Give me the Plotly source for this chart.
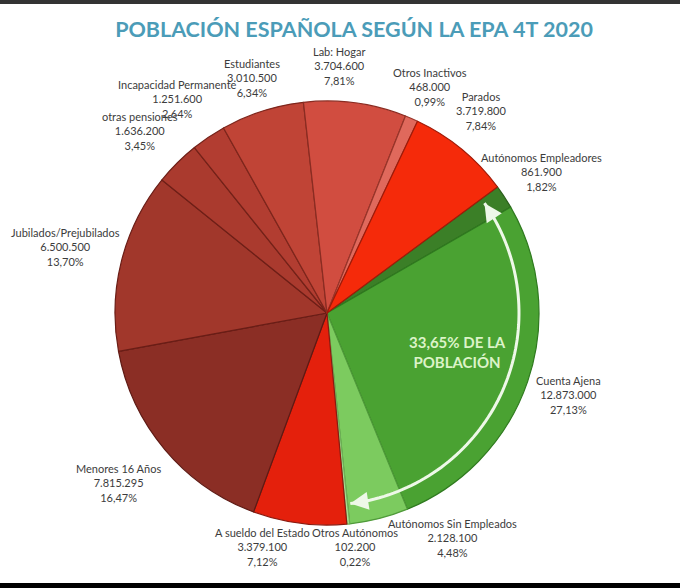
import math
import plotly.graph_objects as go

# ---------------- data ----------------
categories = [
    "Autónomos Empleadores", "Cuenta Ajena", "Autónomos Sin Empleados",
    "Otros Autónomos", "A sueldo del Estado", "Menores 16 Años",
    "Jubilados/Prejubilados", "otras pensiones", "Incapacidad Permanente",
    "Estudiantes", "Lab: Hogar", "Otros Inactivos", "Parados",
]
values = [861900, 12873000, 2128100, 102200, 3379100, 7815295, 6500500,
          1636200, 1251600, 3010500, 3704600, 468000, 3719800]
value_labels = ["861.900", "12.873.000", "2.128.100", "102.200", "3.379.100",
                "7.815.295", "6.500.500", "1.636.200", "1.251.600", "3.010.500",
                "3.704.600", "468.000", "3.719.800"]
pct_labels = ["1,82%", "27,13%", "4,48%", "0,22%", "7,12%", "16,47%", "13,70%",
              "3,45%", "2,64%", "6,34%", "7,81%", "0,99%", "7,84%"]
title_text = "POBLACIÓN ESPAÑOLA SEGÚN LA EPA 4T 2020"
callout_text = "33,65% DE LA<br>POBLACIÓN"
n_employed = 4  # first four slices form the 33,65 % share

# ---------------- styling ----------------
W, H = 680, 588
CX, CY, R = 327, 313, 212
ROTATION = 53.5
colors = ["#3b7f27", "#4aa232", "#7ccb5f", "#a6de90", "#e4200c", "#8b2e25",
          "#a1372b", "#aa3a2e", "#b23d31", "#c04436", "#d14d40", "#e0695c",
          "#f52a0a"]
line_colors = ["#2a5f1b", "#2f7a1f", "#4f9a3a", "#6fae58", "#8a1a10", "#5e1a14",
               "#6a1d16", "#6e1f17", "#742219", "#7e261c", "#8a2c22", "#98352a",
               "#a01a08"]
label_r = [257, 255, 258, 236, 243, 269, 270, 261, 261, 247, 247, 248, 254]
label_nudge = [0, 0, -15, -1, 8, 1, 0, -1, -1, 0, -5, 1, -2]
ARROW_COLOR = "#eef8e8"

fig = go.Figure()

fig.add_trace(go.Pie(
    labels=categories, values=values, sort=False, direction="clockwise",
    rotation=ROTATION, textinfo="none", hoverinfo="label+value+percent",
    marker=dict(colors=colors, line=dict(color=line_colors, width=1.2)),
    domain=dict(x=[(CX - R) / W, (CX + R) / W],
                y=[(H - CY - R) / H, (H - CY + R) / H]),
    showlegend=False,
))

# angles from data
total = sum(values)
cum = 0.0
starts, ends = [], []
for v in values:
    starts.append(ROTATION + 360 * cum / total)
    cum += v
    ends.append(ROTATION + 360 * cum / total)


def pt(angle_deg, r):
    a = math.radians(angle_deg)
    return CX + r * math.sin(a), CY - r * math.cos(a)


annotations = []
for i, name in enumerate(categories):
    mid = (starts[i] + ends[i]) / 2 + label_nudge[i]
    x, y = pt(mid, label_r[i])
    annotations.append(dict(
        x=x, y=y, xref="x", yref="y", showarrow=False,
        text=f"{name}<br>{value_labels[i]}<br>{pct_labels[i]}",
        font=dict(family="Lato, Carlito, Open Sans, sans-serif", size=11, color="#3c3c3c"),
        align="center", xanchor="center", yanchor="middle",
    ))

# callout text
annotations.append(dict(
    x=457, y=352, xref="x", yref="y", showarrow=False, text=f"<b>{callout_text}</b>",
    font=dict(family="Lato, Open Sans, sans-serif", size=15, color="#dcf3c8"),
    align="center", xanchor="center", yanchor="middle",
))

# white arc arrow spanning the employed share
a0 = starts[0] + 1.6
a1 = ends[n_employed - 1] - 1.6
RA = 192
steps = 80
arc = [a0 + (a1 - a0) * k / steps for k in range(steps + 1)]
arc_pts = [pt(a, RA) for a in arc]
path = "M " + " L ".join(f"{x:.2f},{y:.2f}" for x, y in arc_pts)
shapes = [dict(type="path", path=path, xref="x", yref="y",
               line=dict(color=ARROW_COLOR, width=3), layer="above")]
for tip_a, back_a in ((a0, a0 + 4), (a1, a1 - 4)):
    tx, ty = pt(tip_a, RA)
    bx, by = pt(back_a, RA)
    annotations.append(dict(
        x=tx, y=ty, ax=bx, ay=by, xref="x", yref="y", axref="x", ayref="y",
        text="", showarrow=True, arrowhead=2, arrowsize=1.2, arrowwidth=3,
        arrowcolor=ARROW_COLOR,
    ))

shapes += [
    dict(type="rect", xref="x", yref="y", x0=0, x1=W, y0=583, y1=H,
         fillcolor="black", line=dict(width=0), layer="above"),
    dict(type="rect", xref="x", yref="y", x0=0, x1=W, y0=0, y1=4,
         fillcolor="#333333", line=dict(width=0), layer="above"),
]

fig.update_layout(
    width=W, height=H,
    margin=dict(l=0, r=0, t=0, b=0),
    paper_bgcolor="white", plot_bgcolor="rgba(0,0,0,0)",
    xaxis=dict(range=[0, W], visible=False, domain=[0, 1], fixedrange=True),
    yaxis=dict(range=[H, 0], visible=False, domain=[0, 1], fixedrange=True),
    title=dict(text=f"<b>{title_text}</b>", x=354 / W, xanchor="center",
               y=1 - 29 / H, yanchor="middle",
               font=dict(family="Lato, Open Sans, sans-serif", size=21.5, color="#4b9cb8")),
    annotations=annotations,
    shapes=shapes,
)

fig.write_html("out.html", config={"displayModeBar": False},
               post_script="document.body.style.margin='0';document.body.style.overflow='hidden';")
